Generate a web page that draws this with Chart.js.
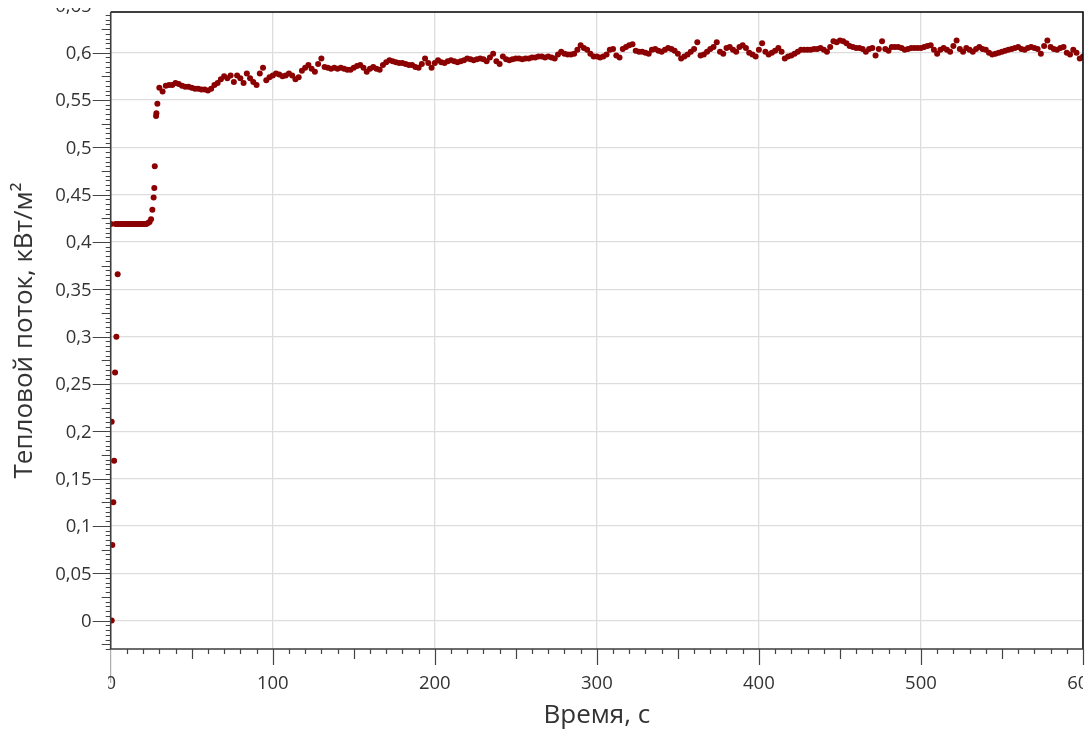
<!DOCTYPE html>
<html>
<head>
<meta charset="utf-8">
<script src="https://cdn.jsdelivr.net/npm/chart.js@4.4.1/dist/chart.umd.min.js"></script>
<style>
  html, body { margin: 0; padding: 0; background: #ffffff; }
  #wrap { width: 1090px; height: 743px; }
</style>
</head>
<body>
<div id="wrap"><canvas id="c" width="1090" height="743"></canvas></div>
<script>
// ---------- DATA ----------
const xTitle = "Время, с";
const yTitle = "Тепловой поток, кВт/м²";

const xTickValues = [0, 100, 200, 300, 400, 500, 600];
const yTickValues = [0, 0.05, 0.1, 0.15, 0.2, 0.25, 0.3, 0.35, 0.4, 0.45, 0.5, 0.55, 0.6, 0.65];

// start-up phase (s, kW/m²)
const startTime = [0.6, 1.0, 1.6, 2.1, 0.6, 2.7, 3.5, 4.3, 0.2,
  3, 4, 5, 6, 7, 8, 9, 10, 11, 12, 13, 14, 15, 16, 17, 18, 19, 20, 21, 22, 23, 24,
  24.9, 25.7, 26.5, 26.9, 27.2, 28.0, 28.2, 28.8];
const startFlux = [0.000, 0.080, 0.125, 0.169, 0.210, 0.262, 0.300, 0.366, 0.419,
  0.419, 0.419, 0.419, 0.419, 0.419, 0.419, 0.419, 0.419, 0.419, 0.419, 0.419, 0.419, 0.419, 0.419, 0.419, 0.419, 0.419, 0.419, 0.419, 0.419, 0.420, 0.421,
  0.424, 0.434, 0.447, 0.457, 0.480, 0.533, 0.536, 0.546];

// quasi-steady phase (s)
const plateauTime = [
  30, 32, 34, 36, 38, 40, 42, 44, 46, 48, 50, 52, 54, 56, 58, 60, 62, 64, 66, 68,
  70, 72, 74, 76, 78, 80, 82, 84, 86, 88, 90, 92, 94, 96, 98, 100, 102, 104, 106, 108,
  110, 112, 114, 116, 118, 120, 122, 124, 126, 128, 130, 132, 134, 136, 138, 140, 142, 144, 146, 148,
  150, 152, 154, 156, 158, 160, 162, 164, 166, 168, 170, 172, 174, 176, 178, 180, 182, 184, 186, 188,
  190, 192, 194, 196, 198, 200, 202, 204, 206, 208, 210, 212, 214, 216, 218, 220, 222, 224, 226, 228,
  230, 232, 234, 236, 238, 240, 242, 244, 246, 248, 250, 252, 254, 256, 258, 260, 262, 264, 266, 268,
  270, 272, 274, 276, 278, 280, 282, 284, 286, 288, 290, 292, 294, 296, 298, 300, 302, 304, 306, 308,
  310, 312, 314, 316, 318, 320, 322, 324, 326, 328, 330, 332, 334, 336, 338, 340, 342, 344, 346, 348,
  350, 352, 354, 356, 358, 360, 362, 364, 366, 368, 370, 372, 374, 376, 378, 380, 382, 384, 386, 388,
  390, 392, 394, 396, 398, 400, 402, 404, 406, 408, 410, 412, 414, 416, 418, 420, 422, 424, 426, 428,
  430, 432, 434, 436, 438, 440, 442, 444, 446, 448, 450, 452, 454, 456, 458, 460, 462, 464, 466, 468,
  470, 472, 474, 476, 478, 480, 482, 484, 486, 488, 490, 492, 494, 496, 498, 500, 502, 504, 506, 508,
  510, 512, 514, 516, 518, 520, 522, 524, 526, 528, 530, 532, 534, 536, 538, 540, 542, 544, 546, 548,
  550, 552, 554, 556, 558, 560, 562, 564, 566, 568, 570, 572, 574, 576, 578, 580, 582, 584, 586, 588,
  590, 592, 594, 596, 598, 600];
// heat flux (kW/m²)
const plateauFlux = [
  0.563, 0.559, 0.565, 0.566, 0.566, 0.568, 0.567, 0.565, 0.564, 0.564, 0.563, 0.562, 0.562, 0.561, 0.561, 0.560, 0.562, 0.566, 0.568, 0.572,
  0.575, 0.573, 0.576, 0.569, 0.576, 0.573, 0.568, 0.578, 0.573, 0.569, 0.566, 0.578, 0.584, 0.571, 0.574, 0.576, 0.578, 0.577, 0.575, 0.576,
  0.578, 0.576, 0.572, 0.574, 0.581, 0.584, 0.587, 0.583, 0.580, 0.588, 0.594, 0.585, 0.584, 0.583, 0.584, 0.583, 0.584, 0.583, 0.582, 0.582,
  0.584, 0.586, 0.587, 0.584, 0.580, 0.583, 0.585, 0.583, 0.582, 0.587, 0.590, 0.592, 0.591, 0.590, 0.589, 0.589, 0.588, 0.587, 0.587, 0.585,
  0.584, 0.588, 0.594, 0.589, 0.584, 0.589, 0.592, 0.590, 0.589, 0.591, 0.592, 0.591, 0.590, 0.591, 0.592, 0.594, 0.593, 0.592, 0.593, 0.594,
  0.593, 0.591, 0.595, 0.599, 0.591, 0.588, 0.596, 0.593, 0.592, 0.593, 0.594, 0.594, 0.593, 0.594, 0.594, 0.595, 0.595, 0.596, 0.596, 0.595,
  0.596, 0.595, 0.594, 0.598, 0.601, 0.599, 0.598, 0.598, 0.599, 0.603, 0.608, 0.605, 0.603, 0.599, 0.596, 0.596, 0.595, 0.596, 0.598, 0.603,
  0.604, 0.597, 0.595, 0.604, 0.606, 0.608, 0.609, 0.602, 0.601, 0.601, 0.600, 0.599, 0.603, 0.604, 0.602, 0.601, 0.603, 0.605, 0.604, 0.602,
  0.599, 0.594, 0.596, 0.598, 0.601, 0.604, 0.611, 0.597, 0.598, 0.601, 0.604, 0.606, 0.611, 0.601, 0.599, 0.605, 0.606, 0.603, 0.601, 0.606,
  0.608, 0.605, 0.600, 0.598, 0.596, 0.603, 0.610, 0.601, 0.598, 0.600, 0.602, 0.605, 0.601, 0.594, 0.596, 0.597, 0.599, 0.601, 0.603, 0.603,
  0.603, 0.603, 0.604, 0.604, 0.605, 0.603, 0.601, 0.606, 0.612, 0.611, 0.613, 0.612, 0.610, 0.607, 0.606, 0.605, 0.605, 0.604, 0.601, 0.604,
  0.605, 0.597, 0.604, 0.612, 0.604, 0.602, 0.606, 0.606, 0.606, 0.605, 0.603, 0.604, 0.605, 0.605, 0.605, 0.605, 0.606, 0.607, 0.608, 0.603,
  0.599, 0.603, 0.605, 0.603, 0.601, 0.607, 0.613, 0.604, 0.601, 0.605, 0.603, 0.601, 0.604, 0.606, 0.604, 0.603, 0.600, 0.598, 0.599, 0.600,
  0.601, 0.602, 0.603, 0.604, 0.605, 0.606, 0.604, 0.603, 0.605, 0.606, 0.605, 0.604, 0.599, 0.607, 0.613, 0.606, 0.604, 0.603, 0.605, 0.606,
  0.600, 0.598, 0.603, 0.600, 0.594, 0.596];

// ---------- CHART ----------
const FONT = '"Segoe UI", "Open Sans", "Noto Sans", sans-serif';
const pts = [];
startTime.forEach((t, i) => pts.push({ x: t, y: startFlux[i] }));
plateauTime.forEach((t, i) => pts.push({ x: t, y: plateauFlux[i] }));

function fmt(v) { return (Math.round(v * 1000) / 1000).toString().replace('.', ','); }

const axisPlugin = {
  id: 'axisPlugin',
  afterDraw(chart) {
    const ctx = chart.ctx, a = chart.chartArea;
    const xs = chart.scales.x, ys = chart.scales.y;
    ctx.save();
    // frame: top and right black
    ctx.strokeStyle = '#000';
    ctx.lineWidth = 1.5;
    ctx.beginPath();
    ctx.moveTo(a.left, a.top); ctx.lineTo(a.right, a.top); ctx.lineTo(a.right, a.bottom);
    ctx.stroke();
    // axis lines
    ctx.strokeStyle = '#3c3c3c';
    ctx.lineWidth = 1.6;
    ctx.beginPath();
    ctx.moveTo(a.left, a.top); ctx.lineTo(a.left, a.bottom);
    ctx.moveTo(a.left - 1, a.bottom); ctx.lineTo(a.right, a.bottom);
    ctx.stroke();
    // left axis extension below the x axis
    ctx.strokeStyle = '#9a9a9a';
    ctx.lineWidth = 1;
    ctx.beginPath();
    ctx.moveTo(a.left, a.bottom); ctx.lineTo(a.left, a.bottom + 34);
    ctx.stroke();

    // y ruler ticks (every 0.005)
    ctx.strokeStyle = '#444';
    ctx.lineWidth = 1.2;
    ctx.beginPath();
    for (let k = -6; k <= 128; k++) {
      const v = k * 0.005;
      if (v < ys.min - 1e-9 || v > ys.max + 1e-9) continue;
      const py = Math.round(ys.getPixelForValue(v)) + 0.5;
      let len = 5;
      if (k % 10 === 0) len = 18; else if (k % 5 === 0) len = 9;
      ctx.moveTo(a.left, py); ctx.lineTo(a.left - len, py);
    }
    ctx.stroke();
    // x ruler ticks (every 10)
    ctx.beginPath();
    for (let k = 1; k <= 60; k++) {
      const v = k * 10;
      const px = Math.round(xs.getPixelForValue(v)) + 0.5;
      let len = 5;
      if (k % 10 === 0) len = 16; else if (k % 5 === 0) len = 10;
      ctx.moveTo(px, a.bottom); ctx.lineTo(px, a.bottom + len);
    }
    ctx.stroke();

    // y tick labels (the top one is cut off by the control's edge)
    ctx.save();
    ctx.beginPath();
    ctx.rect(0, 8, a.left, chart.height);
    ctx.clip();
    ctx.fillStyle = '#333';
    ctx.font = '18.5px ' + FONT;
    ctx.textAlign = 'right';
    ctx.textBaseline = 'middle';
    yTickValues.forEach(v => {
      ctx.fillText(fmt(v), a.left - 19, ys.getPixelForValue(v) + 1);
    });
    ctx.restore();
    // x tick labels, clipped to plot width
    ctx.save();
    ctx.beginPath();
    ctx.rect(a.left - 2.5, a.bottom, a.right - a.left + 2.5, 80);
    ctx.clip();
    ctx.fillStyle = '#333';
    ctx.font = '18.5px ' + FONT;
    ctx.textAlign = 'center';
    ctx.textBaseline = 'middle';
    xTickValues.forEach(v => {
      ctx.fillText(String(v), xs.getPixelForValue(v), a.bottom + 35);
    });
    ctx.restore();

    // axis titles
    ctx.fillStyle = '#333';
    ctx.font = '26px ' + FONT;
    ctx.textAlign = 'center';
    ctx.textBaseline = 'middle';
    ctx.fillText(xTitle, (a.left + a.right) / 2, 716);
    ctx.save();
    ctx.translate(25, (a.top + a.bottom) / 2);
    ctx.rotate(-Math.PI / 2);
    ctx.fillText(yTitle, 0, 0);
    ctx.restore();
    ctx.restore();
  }
};

new Chart(document.getElementById('c'), {
  type: 'scatter',
  data: {
    datasets: [{
      data: pts,
      backgroundColor: '#8B0000',
      borderColor: '#8B0000',
      borderWidth: 0,
      pointRadius: 3,
      pointHoverRadius: 3,
      showLine: false
    }]
  },
  options: {
    responsive: false,
    animation: false,
    devicePixelRatio: 1,
    layout: { padding: { left: 110.7, right: 7, top: 12, bottom: 94 } },
    plugins: { legend: { display: false }, tooltip: { enabled: false } },
    scales: {
      x: {
        type: 'linear', min: 0, max: 600,
        afterBuildTicks: s => { s.ticks = xTickValues.map(v => ({ value: v })); },
        ticks: { display: false },
        grid: { color: '#dddddd', lineWidth: 1.3, drawTicks: false },
        border: { display: false }
      },
      y: {
        type: 'linear', min: -0.03, max: 0.643,
        afterBuildTicks: s => { s.ticks = yTickValues.filter(v => v <= 0.643).map(v => ({ value: v })); },
        ticks: { display: false },
        grid: { color: '#dddddd', lineWidth: 1.3, drawTicks: false },
        border: { display: false }
      }
    }
  },
  plugins: [axisPlugin]
});
</script>
</body>
</html>
